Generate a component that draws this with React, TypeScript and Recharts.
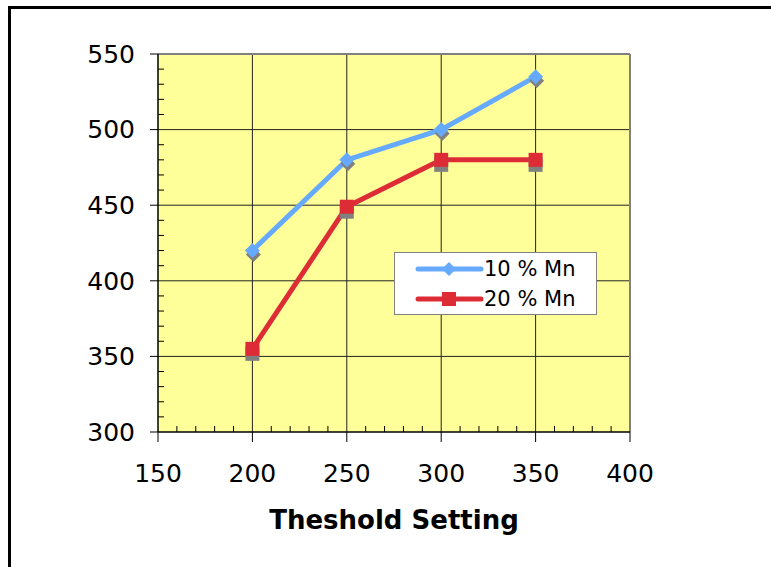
import React from 'react';
import { LineChart, Line, XAxis, YAxis, CartesianGrid, ReferenceLine, Legend, Label } from 'recharts';

const thresholds = [200, 250, 300, 350];
const mn10 = [420, 480, 500, 535];
const mn20 = [355, 449, 480, 480];
const xTicks = [150, 200, 250, 300, 350, 400];
const yTicks = [300, 350, 400, 450, 500, 550];
const xAllTicks = [150, 160, 170, 180, 190, 200, 210, 220, 230, 240, 250, 260, 270, 280, 290, 300, 310, 320, 330, 340, 350, 360, 370, 380, 390, 400];
const yAllTicks = [300, 310, 320, 330, 340, 350, 360, 370, 380, 390, 400, 410, 420, 430, 440, 450, 460, 470, 480, 490, 500, 510, 520, 530, 540, 550];
const xGrid = [200, 250, 300, 350];
const yGrid = [350, 400, 450, 500];
const seriesNames = ['10 % Mn', '20 % Mn'];

const data = thresholds.map((x, i) => ({ x, a: mn10[i], b: mn20[i] }));

const BLUE = '#66AAFF';
const RED = '#DD2C35';
const SHADOW = '#808080';
const FONT = '"DejaVu Sans", Verdana, sans-serif';

const Diamond = (props: any) => {
  const { cx, cy } = props;
  if (cx == null || cy == null) return null;
  const r = 7.5;
  const path = (x: number, y: number) => `M${x},${y - r}L${x + r},${y}L${x},${y + r}L${x - r},${y}Z`;
  return (
    <g>
      <path d={path(cx + 1, cy + 4)} fill={SHADOW} />
      <path d={path(cx, cy)} fill={BLUE} />
    </g>
  );
};

const Square = (props: any) => {
  const { cx, cy } = props;
  if (cx == null || cy == null) return null;
  const h = 7;
  return (
    <g>
      <rect x={cx - h} y={cy - h + 5} width={2 * h} height={2 * h} fill={SHADOW} />
      <rect x={cx - h} y={cy - h} width={2 * h} height={2 * h} fill={RED} />
    </g>
  );
};

const XTick = (props: any) => {
  const { x, y, payload } = props;
  const major = xTicks.includes(payload.value);
  if (!major) return <line x1={x} y1={y} x2={x} y2={y - 6} stroke="#000" strokeWidth={1} />;
  return (
    <g>
      <line x1={x} y1={y} x2={x} y2={y + 10} stroke="#000" strokeWidth={1} />
      <text x={x} y={y + 32} dy="0.71em" textAnchor="middle" fill="#000" fontSize={25} fontFamily={FONT}>
        {payload.value}
      </text>
    </g>
  );
};

const YTick = (props: any) => {
  const { x, y, payload } = props;
  const major = yTicks.includes(payload.value);
  if (!major) return <line x1={x} y1={y} x2={x + 6} y2={y} stroke="#000" strokeWidth={1} />;
  return (
    <g>
      <line x1={x - 8} y1={y} x2={x} y2={y} stroke="#000" strokeWidth={1} />
      <text x={x - 23} y={y} dy="0.355em" textAnchor="end" fill="#000" fontSize={25} fontFamily={FONT}>
        {payload.value}
      </text>
    </g>
  );
};

const LegendBox = () => (
  <div
    style={{
      width: 203,
      height: 63,
      boxSizing: 'border-box',
      border: '1px solid #808080',
      background: '#fff',
      fontFamily: FONT,
      fontSize: 21,
      color: '#000',
      position: 'relative',
    }}
  >
    {seriesNames.map((name, i) => (
      <div key={name} style={{ position: 'absolute', left: 20, top: i === 0 ? 3 : 33, height: 26, display: 'flex', alignItems: 'center' }}>
        <svg width={70} height={26}>
          <line x1={3} y1={13} x2={66} y2={13} stroke={i === 0 ? BLUE : RED} strokeWidth={5} strokeLinecap="round" />
          {i === 0 ? (
            <path d="M34,6L41,13L34,20L27,13Z" fill={BLUE} />
          ) : (
            <rect x={27} y={6} width={14} height={14} fill={RED} />
          )}
        </svg>
        <span style={{ marginLeft: -1, lineHeight: '26px' }}>{name}</span>
      </div>
    ))}
  </div>
);

export default function App() {
  return (
    <div style={{ position: 'absolute', left: 0, top: 0, width: 771, height: 567, overflow: 'hidden', background: '#fff' }}>
      <div style={{ position: 'absolute', left: 8, top: 6, width: 850, height: 700, border: '3px solid #000' }} />
      <div style={{ position: 'absolute', left: 0, top: 0 }}>
        <LineChart width={771} height={567} data={data} margin={{ top: 54, right: 141, left: 0, bottom: 30 }}>
          <CartesianGrid horizontal={false} vertical={false} stroke="none" fill="#FFFF99" fillOpacity={1} />
          {xGrid.map((v) => (
            <ReferenceLine key={'gx' + v} x={v} stroke="#222" strokeWidth={1} />
          ))}
          {yGrid.map((v) => (
            <ReferenceLine key={'gy' + v} y={v} stroke="#222" strokeWidth={1} />
          ))}
          <ReferenceLine y={550} stroke="#808080" strokeWidth={2} />
          <ReferenceLine x={400} stroke="#808080" strokeWidth={2} />
          <XAxis
            dataKey="x"
            type="number"
            domain={[150, 400]}
            ticks={xAllTicks}
            interval={0}
            height={105}
            tickSize={0}
            tickMargin={0}
            tickLine={false}
            axisLine={{ stroke: '#000', strokeWidth: 1.5 }}
            tick={<XTick />}
          >
            <Label value="Theshold Setting" position="insideBottom" offset={8} style={{ fontFamily: FONT, fontWeight: 'bold', fontSize: 26, fill: '#000' }} />
          </XAxis>
          <YAxis
            type="number"
            domain={[300, 550]}
            ticks={yAllTicks}
            interval={0}
            width={158}
            tickSize={0}
            tickMargin={0}
            tickLine={false}
            axisLine={{ stroke: '#000', strokeWidth: 1.5 }}
            tick={<YTick />}
          />
          <Legend
            verticalAlign="middle"
            layout="horizontal"
            align="center"
            content={<LegendBox />}
            wrapperStyle={{ position: 'absolute', left: 394, top: 252, width: 203, height: 63 }}
          />
          <Line dataKey="a" name={seriesNames[0]} stroke={BLUE} strokeWidth={5} dot={<Diamond />} activeDot={false} isAnimationActive={false} />
          <Line dataKey="b" name={seriesNames[1]} stroke={RED} strokeWidth={5} dot={<Square />} activeDot={false} isAnimationActive={false} />
        </LineChart>
      </div>
    </div>
  );
}
